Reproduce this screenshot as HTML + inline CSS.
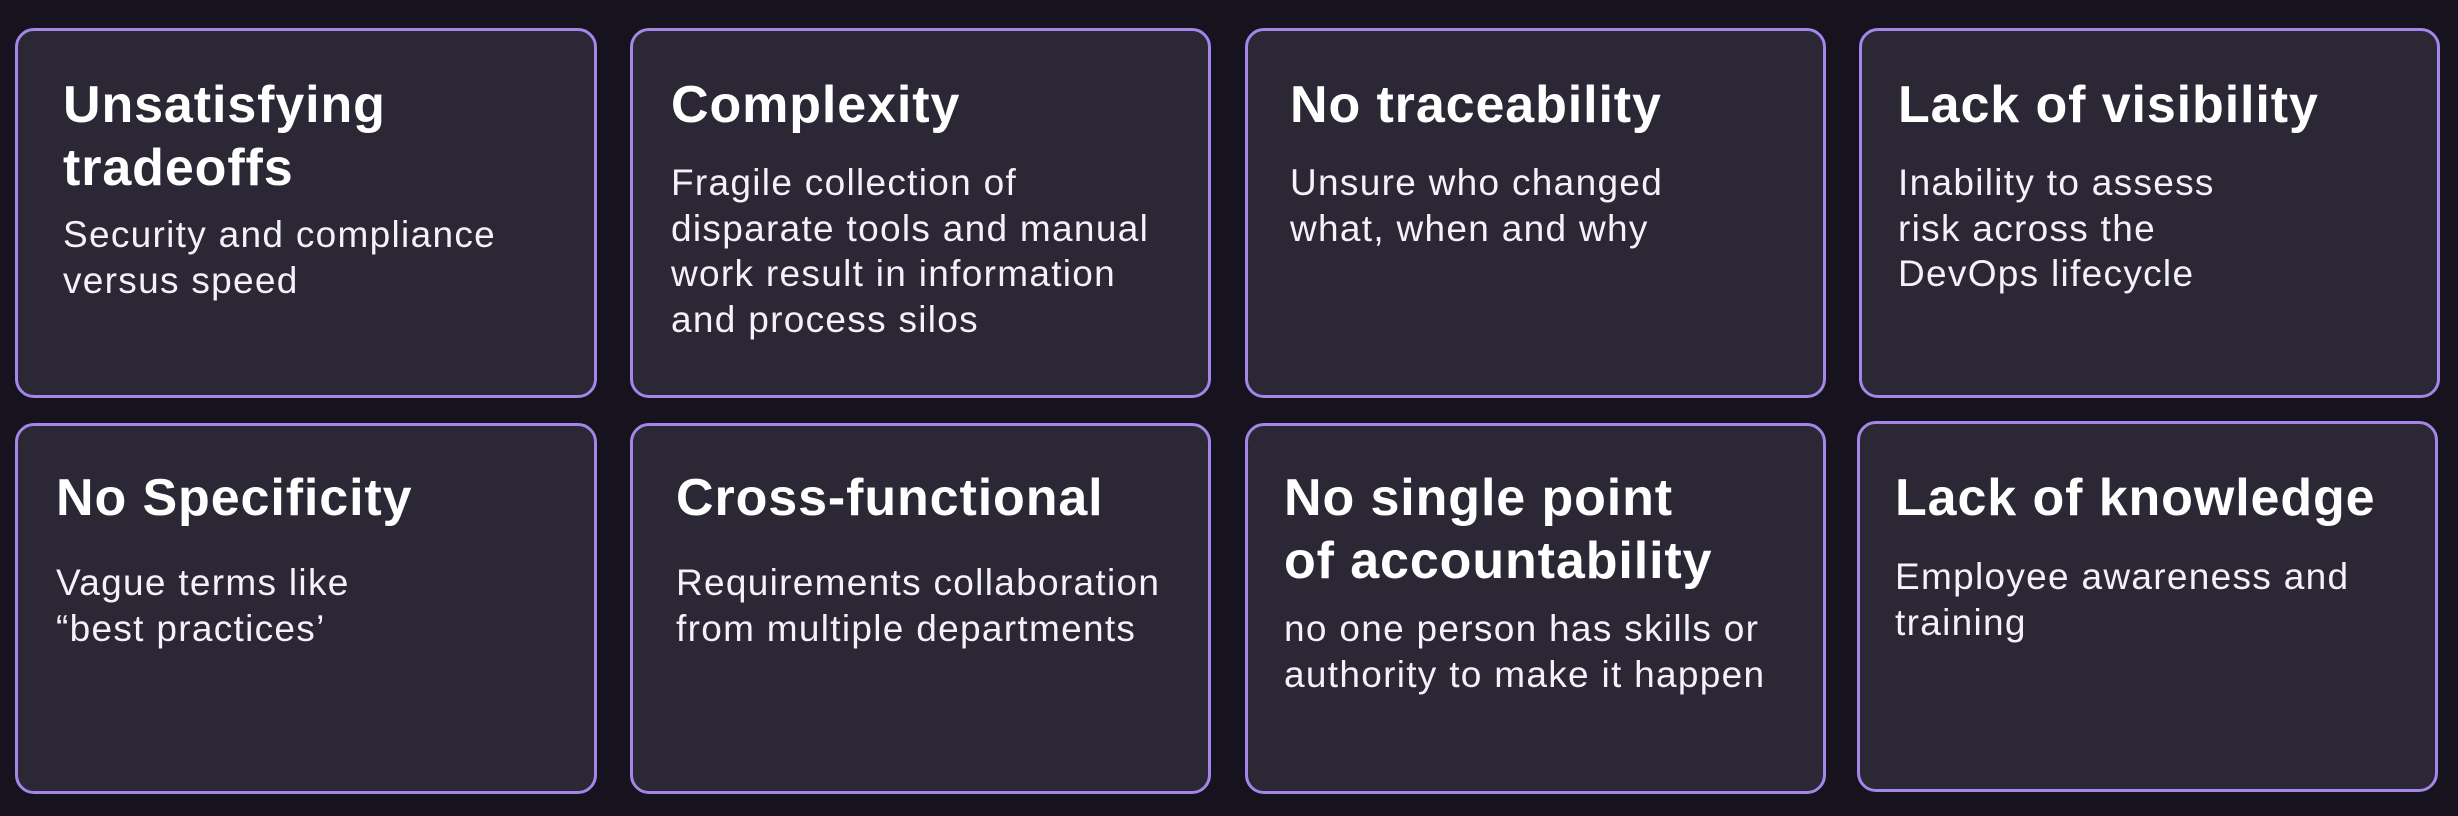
<!DOCTYPE html>
<html><head><meta charset="utf-8"><style>
html,body{margin:0;padding:0;}
body{width:2458px;height:816px;background:#16131f;position:relative;overflow:hidden;font-family:"Liberation Sans",sans-serif;color:#fff;}
.b{position:absolute;background:#2b2735;border:3px solid #a485e8;border-radius:19px;box-sizing:border-box;}
.t{position:absolute;font-weight:bold;font-size:52px;letter-spacing:0.9px;line-height:63px;white-space:nowrap;}
.d{position:absolute;font-size:37px;letter-spacing:1.3px;line-height:45.5px;white-space:nowrap;color:#f4f2f8;}
</style></head><body>
<div class="b" style="left:15px;top:28px;width:582px;height:370px"></div>
<div class="b" style="left:630px;top:28px;width:581px;height:370px"></div>
<div class="b" style="left:1245px;top:28px;width:581px;height:370px"></div>
<div class="b" style="left:1859px;top:28px;width:581px;height:370px"></div>
<div class="b" style="left:15px;top:423px;width:582px;height:371px"></div>
<div class="b" style="left:630px;top:423px;width:581px;height:371px"></div>
<div class="b" style="left:1245px;top:423px;width:581px;height:371px"></div>
<div class="b" style="left:1857px;top:421px;width:581px;height:371px"></div>

<div class="t" style="left:63px;top:74px">Unsatisfying<br>tradeoffs</div>
<div class="d" style="left:63px;top:212px">Security and compliance<br>versus speed</div>

<div class="t" style="left:671px;top:74px">Complexity</div>
<div class="d" style="left:671px;top:160px">Fragile collection of<br>disparate tools and manual<br>work result in information<br>and process silos</div>

<div class="t" style="left:1290px;top:74px">No traceability</div>
<div class="d" style="left:1290px;top:160px">Unsure who changed<br>what, when and why</div>

<div class="t" style="left:1898px;top:74px">Lack of visibility</div>
<div class="d" style="left:1898px;top:160px">Inability to assess<br>risk across the<br>DevOps lifecycle</div>

<div class="t" style="left:56px;top:467px">No Specificity</div>
<div class="d" style="left:56px;top:560px">Vague terms like<br>“best practices’</div>

<div class="t" style="left:676px;top:467px">Cross-functional</div>
<div class="d" style="left:676px;top:560px">Requirements collaboration<br>from multiple departments</div>

<div class="t" style="left:1284px;top:467px">No single point<br>of accountability</div>
<div class="d" style="left:1284px;top:606px">no one person has skills or<br>authority to make it happen</div>

<div class="t" style="left:1895px;top:467px">Lack of knowledge</div>
<div class="d" style="left:1895px;top:554px">Employee awareness and<br>training</div>
</body></html>
